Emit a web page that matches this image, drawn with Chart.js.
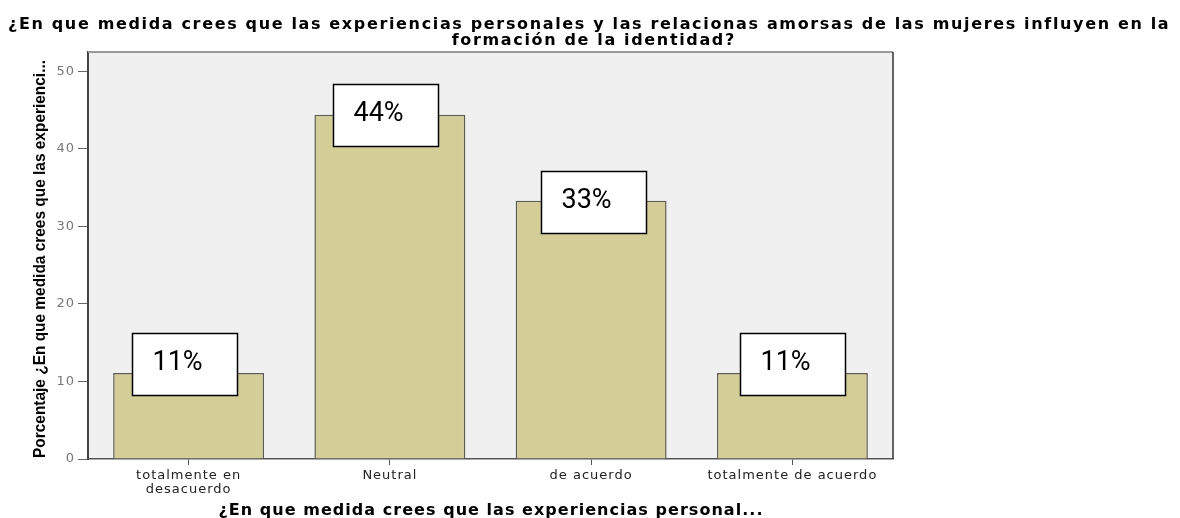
<!DOCTYPE html>
<html>
<head>
<meta charset="utf-8">
<script src="https://cdn.jsdelivr.net/npm/chart.js@4"></script>
<style>
  html, body { margin: 0; padding: 0; background: #fff; }
  #wrap { width: 1180px; height: 518px; position: relative; }
</style>
</head>
<body>
<div id="wrap"><canvas id="chart"></canvas></div>
<script>
const titleLines = [
  '¿En que medida crees que las experiencias personales y las relacionas amorsas de las mujeres influyen en la',
  'formación de la identidad?'
]
const categories = [
  ['totalmente en', 'desacuerdo'],
  'Neutral',
  'de acuerdo',
  'totalmente de acuerdo'
]
const percentages = [11.1, 44.4, 33.3, 11.1]
const boxLabels = ['11%', '44%', '33%', '11%']
const xTitle = '¿En que medida crees que las experiencias personal...'
const yTitle = 'Porcentaje ¿En que medida crees que las experienci...'

// label boxes were pasted by hand, so they sit a bit off the bar tops
const boxShift = [[-4.5, -9], [-4.5, 0], [2.5, 1.5], [0.5, -9]]

// SPSS style wide bold text: stretch letter spacing to hit a given width
function spacedWidth(ctx, text, font, targetW) {
  ctx.font = font
  ctx.letterSpacing = '0px'
  const w = ctx.measureText(text).width
  return (targetW - w) / (text.length - 1)
}

function drawSpaced(ctx, text, font, spacing, cx, y) {
  ctx.font = font
  ctx.letterSpacing = '0px'
  const w = ctx.measureText(text).width + spacing * (text.length - 1)
  ctx.letterSpacing = spacing + 'px'
  ctx.textAlign = 'left'
  ctx.fillText(text, cx - w / 2, y)
  ctx.letterSpacing = '0px'
}

const plotBackground = {
  id: 'plotBackground',
  beforeDraw(chart) {
    const { ctx, chartArea: a } = chart
    ctx.letterSpacing = '0px'
    ctx.save()
    ctx.fillStyle = '#f0f0f0'
    ctx.fillRect(a.left, a.top, a.right - a.left, a.bottom - a.top)
    ctx.restore()
    // tick labels are loosely spaced in the original
    ctx.letterSpacing = '1px'
  },
  afterDatasetsDraw(chart) {
    const { ctx, chartArea: a } = chart
    ctx.save()
    ctx.strokeStyle = '#9a9a9a'
    ctx.lineWidth = 2
    ctx.beginPath()
    ctx.moveTo(a.left, a.top)
    ctx.lineTo(a.right, a.top)
    ctx.stroke()
    ctx.strokeStyle = '#333'
    ctx.lineWidth = 1.5
    ctx.beginPath()
    ctx.moveTo(a.right, a.top)
    ctx.lineTo(a.right, a.bottom)
    ctx.stroke()
    ctx.restore()
  }
}

const textPlugin = {
  id: 'spssText',
  afterDraw(chart) {
    const { ctx, chartArea: a } = chart
    ctx.save()
    ctx.letterSpacing = '0px'
    ctx.fillStyle = '#000'
    ctx.textBaseline = 'alphabetic'

    const titleFont = 'bold 16px "DejaVu Sans"'
    const sp = spacedWidth(ctx, titleLines[0], titleFont, 1160)
    drawSpaced(ctx, titleLines[0], titleFont, sp, 588, 29)
    drawSpaced(ctx, titleLines[1], titleFont, sp, 593, 45)

    const xsp = spacedWidth(ctx, xTitle, titleFont, 544)
    drawSpaced(ctx, xTitle, titleFont, xsp, (a.left + a.right) / 2, 515)

    // y title: narrow bold, squeezed horizontally
    ctx.font = 'bold 17px "Liberation Sans"'
    const yw = ctx.measureText(yTitle).width
    ctx.translate(45, 259)
    ctx.rotate(-Math.PI / 2)
    ctx.scale(398 / yw, 1)
    ctx.textAlign = 'center'
    ctx.fillText(yTitle, 0, 0)
    ctx.restore()

    // hand-placed percentage boxes
    const bars = chart.getDatasetMeta(0).data
    ctx.save()
    ctx.letterSpacing = '0px'
    ctx.font = '27px Roboto'
    ctx.textBaseline = 'middle'
    ctx.textAlign = 'left'
    bars.forEach((bar, i) => {
      const w = 105, h = 62
      const cx = bar.x + boxShift[i][0]
      const cy = bar.y + boxShift[i][1]
      const x = Math.round(cx - w / 2) + 0.5
      const y = Math.round(cy - h / 2) + 0.5
      ctx.fillStyle = '#fff'
      ctx.fillRect(x, y, w, h)
      ctx.strokeStyle = '#000'
      ctx.lineWidth = 1.5
      ctx.strokeRect(x, y, w, h)
      ctx.fillStyle = '#000'
      ctx.fillText(boxLabels[i], x + 20, cy - 1)
    })
    ctx.restore()
  }
}

new Chart(document.getElementById('chart'), {
  type: 'bar',
  data: {
    labels: categories,
    datasets: [{
      data: percentages,
      backgroundColor: '#d3cd98',
      borderColor: '#5c5c52',
      borderWidth: 1.5,
      barPercentage: 0.75,
      categoryPercentage: 1.0
    }]
  },
  options: {
    responsive: true,
    maintainAspectRatio: false,
    animation: false,
    layout: { padding: { top: 52 } },
    plugins: {
      legend: { display: false },
      tooltip: { enabled: false },
      title: { display: false }
    },
    scales: {
      x: {
        grid: { display: true, drawOnChartArea: false, offset: false, tickLength: 6, color: '#555' },
        border: { display: true, color: '#555', width: 1.5 },
        ticks: {
          color: '#222',
          padding: 4,
          maxRotation: 0,
          font: { family: 'DejaVu Sans', size: 13, lineHeight: 1.05 }
        },
        afterFit(s) { s.height = 59 }
      },
      y: {
        min: 0,
        max: 52.5,
        ticks: {
          stepSize: 10,
          color: '#777',
          padding: 3,
          font: { family: 'DejaVu Sans', size: 13 }
        },
        afterBuildTicks(s) { s.ticks = s.ticks.filter(t => t.value % 10 === 0) },
        grid: { display: true, drawOnChartArea: false, tickLength: 10, color: '#666' },
        border: { display: true, color: '#444', width: 2 },
        afterFit(s) { s.width = 88 }
      },
      spare: {
        type: 'linear',
        position: 'right',
        display: true,
        grid: { display: false },
        border: { display: false },
        ticks: { display: false },
        afterFit(s) { s.width = 287 }
      }
    }
  },
  plugins: [plotBackground, textPlugin]
})
</script>
</body>
</html>
